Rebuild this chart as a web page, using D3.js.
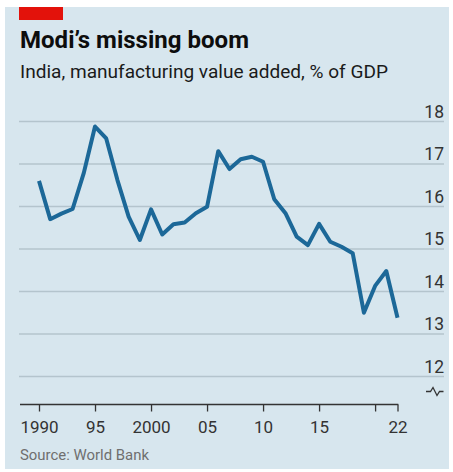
<!DOCTYPE html>
<html>
<head>
<meta charset="utf-8">
<script src="https://cdn.jsdelivr.net/npm/d3@7"></script>
<style>
  html, body { margin: 0; padding: 0; background: #ffffff; }
  svg { display: block; }
  text { font-family: Roboto, "Noto Sans", sans-serif; }
</style>
</head>
<body>
<svg id="chart" width="453" height="472"></svg>
<script>
// India, manufacturing value added, % of GDP (World Bank)
const years = [1990, 1991, 1992, 1993, 1994, 1995, 1996, 1997, 1998, 1999,
               2000, 2001, 2002, 2003, 2004, 2005, 2006, 2007, 2008, 2009,
               2010, 2011, 2012, 2013, 2014, 2015, 2016, 2017, 2018, 2019,
               2020, 2021, 2022];
const manufacturingShare = [16.59, 15.69, 15.82, 15.93, 16.78, 17.87, 17.59, 16.61, 15.75, 15.20,
                            15.92, 15.33, 15.57, 15.61, 15.83, 15.98, 17.29, 16.87, 17.10, 17.16,
                            17.04, 16.16, 15.83, 15.28, 15.08, 15.58, 15.16, 15.04, 14.89, 13.49,
                            14.12, 14.47, 13.37];
const yTicks = [12, 13, 14, 15, 16, 17, 18];
const xTicks = [1990, 1995, 2000, 2005, 2010, 2015, 2020, 2022];
const xTickLabels = ["1990", "95", "2000", "05", "10", "15", "", "22"];

const titleText = "Modi\u2019s missing boom";
const subtitleText = "India, manufacturing value added, % of GDP";
const sourceText = "Source: World Bank";

const svg = d3.select("#chart");

// panel background and red tag
svg.append("rect").attr("x", 5).attr("y", 7).attr("width", 444).attr("height", 462)
  .attr("fill", "#d7e6ee");
svg.append("rect").attr("x", 19).attr("y", 7).attr("width", 44).attr("height", 13)
  .attr("fill", "#e3120b");

// headings
svg.append("text").attr("x", 20).attr("y", 48)
  .attr("font-size", 23).attr("font-weight", 700).attr("fill", "#0d0d0d")
  .attr("textLength", 229).attr("lengthAdjust", "spacingAndGlyphs")
  .text(titleText);
svg.append("text").attr("x", 20).attr("y", 77.5)
  .attr("font-size", 18.5).attr("fill", "#1a1a1a")
  .attr("textLength", 368).attr("lengthAdjust", "spacingAndGlyphs")
  .text(subtitleText);

// scales
const x = d3.scaleLinear().domain([1990, 2022]).range([39, 397.5]);
const y = d3.scaleLinear().domain([12, 18]).range([376, 121]);

// horizontal gridlines with right-hand labels
const gridRight = 444, gridLeft = 19;
const yAxis = svg.append("g")
  .attr("transform", `translate(${gridRight},0)`)
  .call(d3.axisLeft(y).tickValues(yTicks).tickSize(gridRight - gridLeft).tickFormat(d3.format("d")));
yAxis.select(".domain").remove();
yAxis.selectAll(".tick line").attr("stroke", "#b4c4cd").attr("stroke-width", 1.6);
yAxis.selectAll(".tick text")
  .attr("x", 0).attr("y", -4).attr("dy", null)
  .attr("text-anchor", "end")
  .attr("font-size", 17.5).attr("fill", "#333333")
  .attr("font-family", "Roboto, sans-serif");

// axis break marker below the lowest gridline
svg.append("path")
  .attr("d", "M426,391.5 h4.5 l2.5,-4 l4,8 l2.5,-4 h4")
  .attr("fill", "none").attr("stroke", "#333333").attr("stroke-width", 1.3);

// data line
const line = d3.line()
  .x((d, i) => x(years[i]))
  .y(d => y(d));
svg.append("path")
  .datum(manufacturingShare)
  .attr("d", line)
  .attr("fill", "none")
  .attr("stroke", "#1c6898")
  .attr("stroke-width", 4)
  .attr("stroke-linejoin", "round");

// bottom axis
const axisY = 404.5;
const xAxis = svg.append("g")
  .attr("transform", `translate(0,${axisY})`)
  .call(d3.axisBottom(x).tickValues(xTicks).tickSize(7).tickSizeOuter(0)
        .tickFormat((d, i) => xTickLabels[i]));
xAxis.select(".domain").remove();
xAxis.append("line").attr("x1", 20).attr("x2", x(2022) + 0.8)
  .attr("stroke", "#333333").attr("stroke-width", 1.6);
xAxis.selectAll(".tick line").attr("stroke", "#333333").attr("stroke-width", 1.3);
xAxis.selectAll(".tick text")
  .attr("y", 28).attr("dy", null)
  .attr("font-size", 17).attr("fill", "#333333")
  .attr("font-family", "Roboto, sans-serif");

// source note
svg.append("text").attr("x", 20).attr("y", 460)
  .attr("font-size", 15).attr("fill", "#6f6f6f")
  .attr("textLength", 129).attr("lengthAdjust", "spacingAndGlyphs")
  .text(sourceText);
</script>
</body>
</html>
